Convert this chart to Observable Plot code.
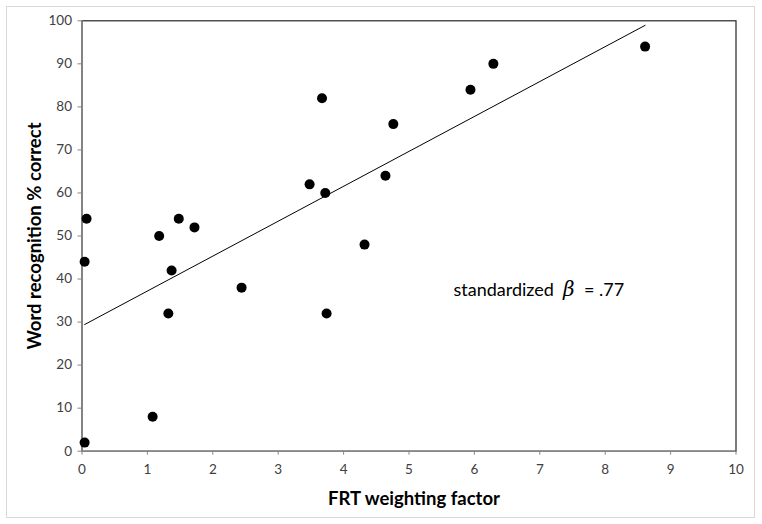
<!DOCTYPE html>
<html>
<head>
<meta charset="utf-8">
<script src="https://cdn.jsdelivr.net/npm/d3@7"></script>
<script src="https://cdn.jsdelivr.net/npm/@observablehq/plot@0.6"></script>
<style>
  html, body { margin: 0; padding: 0; background: #fff; }
  #chart { width: 762px; height: 524px; }
</style>
</head>
<body>
<div id="chart"></div>
<script>
const frtWeighting = [0.04, 1.08, 0.04, 1.37, 1.32, 2.44, 0.07, 1.18, 1.48, 1.72, 3.67, 4.76, 3.48, 3.72, 4.64, 4.32, 3.74, 5.94, 6.29, 8.61];
const wordRecognition = [2, 8, 44, 42, 32, 38, 54, 50, 54, 52, 82, 76, 62, 60, 64, 48, 32, 84, 90, 94];
const xTicks = [0, 1, 2, 3, 4, 5, 6, 7, 8, 9, 10];
const yTicks = [0, 10, 20, 30, 40, 50, 60, 70, 80, 90, 100];
const annotation = [{x: 5.68, y: 37.3, pre: "standardized  ", sym: "β", post: "  = .77"}];

const data = frtWeighting.map((x, i) => ({x, y: wordRecognition[i]}));

const font = "Lato, 'Open Sans', sans-serif";

const chart = Plot.plot({
  width: 762,
  height: 524,
  marginLeft: 81.5,
  marginRight: 26.5,
  marginTop: 20.3,
  marginBottom: 73.3,
  style: {fontFamily: font, fontSize: "13.5px", color: "#404040", background: "#fff"},
  x: {domain: [0, 10], ticks: xTicks, tickSize: 4, tickPadding: 9, label: null},
  y: {domain: [0, 100], ticks: yTicks, tickSize: 4, tickPadding: 6, label: null},
  marks: [
    Plot.frame({stroke: "#262626", strokeWidth: 1.2}),
    Plot.axisX({ticks: xTicks, tickSize: 4, tickPadding: 9, stroke: "#868686", label: null, fontSize: 13.5}),
    Plot.axisY({ticks: yTicks, tickSize: 4, tickPadding: 6, stroke: "#868686", label: null, fontSize: 13.5}),
    Plot.ruleX([0], {stroke: "#868686", strokeWidth: 1.5}),
    Plot.ruleY([0], {stroke: "#868686", strokeWidth: 1.5}),
    Plot.linearRegressionY(data, {x: "x", y: "y", stroke: "#000", strokeWidth: 1, ci: 0}),
    Plot.dot(data, {x: "x", y: "y", r: 5, fill: "#000", stroke: "none"}),
    Plot.text(annotation, {x: "x", y: "y", text: d => d.pre + d.sym + d.post, textAnchor: "start", fontSize: 18, fill: "#000", className: "anno"})
  ]
});

const svg = d3.select(chart);
// Rich text annotation with italic beta
svg.selectAll(".anno text").each(function(d, i) {
  const t = d3.select(this);
  const a = annotation[i] || annotation[0];
  t.text(null);
  t.style("white-space", "pre");
  t.append("tspan").text(a.pre);
  t.append("tspan").attr("font-family", "'DejaVu Serif', 'Liberation Serif', serif").attr("font-style", "italic").attr("font-size", 20).text(a.sym);
  t.append("tspan").text(a.post);
});

// Outer chart-area border
svg.insert("rect", ":first-child")
  .attr("x", 6.5).attr("y", 6.5).attr("width", 748).attr("height", 511)
  .attr("fill", "#fff").attr("stroke", "#d9d9d9").attr("stroke-width", 1);

// Axis titles
svg.append("text")
  .attr("x", 414).attr("y", 505)
  .attr("text-anchor", "middle")
  .attr("font-family", font).attr("font-weight", "bold").attr("font-size", 18.5).attr("fill", "#000")
  .text("FRT weighting factor");
svg.append("text")
  .attr("transform", "translate(41,236) rotate(-90)")
  .attr("text-anchor", "middle")
  .attr("font-family", font).attr("font-weight", "bold").attr("font-size", 18.5).attr("fill", "#000")
  .text("Word recognition % correct");

document.getElementById("chart").appendChild(chart);
</script>
</body>
</html>
